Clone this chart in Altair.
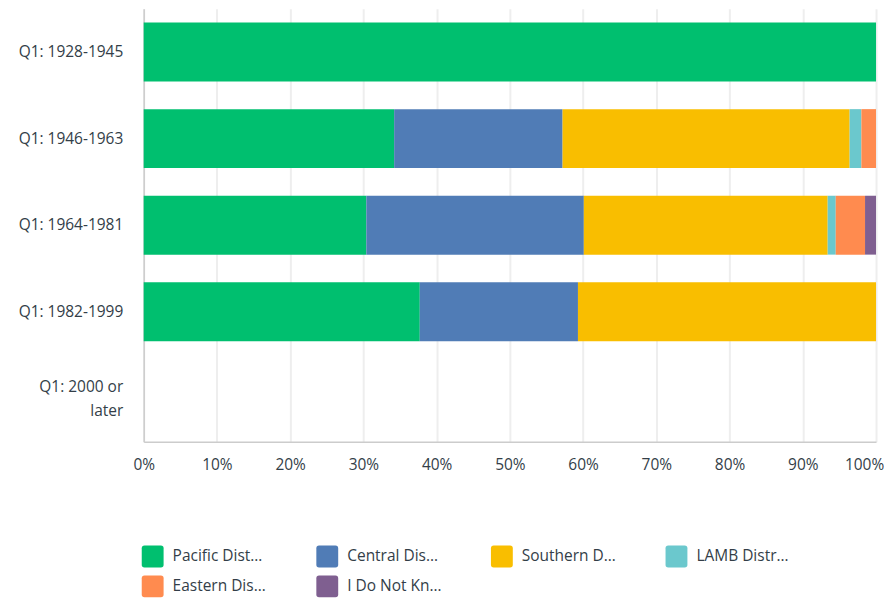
import altair as alt
import pandas as pd

categories = ["Q1: 1928-1945", "Q1: 1946-1963", "Q1: 1964-1981", "Q1: 1982-1999", "Q1: 2000 or later"]
series = ["Pacific Dist…", "Central Dis…", "Southern D…", "LAMB Distr…", "Eastern Dis…", "I Do Not Kn…"]
colors = ["#00bf6f", "#507cb6", "#f9be00", "#6bc8cd", "#ff8b4f", "#7f5f90"]

# percentage shares per category (rows) and series (columns)
values = {
    "Q1: 1928-1945": [100.0, 0, 0, 0, 0, 0],
    "Q1: 1946-1963": [34.2, 23.0, 39.2, 1.6, 2.0, 0],
    "Q1: 1964-1981": [30.4, 29.7, 33.3, 1.1, 4.0, 1.5],
    "Q1: 1982-1999": [37.7, 21.6, 40.7, 0, 0, 0],
}

rows = []
for cat, vals in values.items():
    for i, (s, v) in enumerate(zip(series, vals)):
        rows.append({"category": cat, "series": s, "order": i, "value": v / 100.0})
df = pd.DataFrame(rows)

font = "Open Sans"
rounded_square = "M-0.75,-1H0.75Q1,-1,1,-0.75V0.75Q1,1,0.75,1H-0.75Q-1,1,-1,0.75V-0.75Q-1,-1,-0.75,-1Z"

chart = alt.Chart(df).mark_bar().encode(
    y=alt.Y("category:N", sort=categories,
            scale=alt.Scale(domain=categories, paddingInner=0.32, paddingOuter=0.16),
            axis=alt.Axis(title=None, labelFontSize=15.5, labelColor="#333e48", labelFont=font,
                          labelPadding=21, ticks=False, domainColor="#cccccc", domainWidth=1.5,
                          labelLimit=200,
                          labelExpr="datum.value == 'Q1: 2000 or later' ? ['Q1: 2000 or', 'later'] : datum.value",
                          labelOffset={"condition": {"test": "datum.value == 'Q1: 2000 or later'", "value": -11}, "value": 0},
                          labelLineHeight=24)),
    x=alt.X("value:Q", stack="zero",
            scale=alt.Scale(domain=[0, 1], nice=False),
            axis=alt.Axis(title=None, format=".0%", values=[i / 10 for i in range(11)],
                          labelFontSize=15.5, labelColor="#333e48", labelFont=font, labelPadding=16,
                          labelOffset={"condition": {"test": "datum.value == 1", "value": -12}, "value": 0},
                          ticks=False, grid=True, gridColor="#eeeeee", gridWidth=2,
                          domainColor="#cccccc", domainWidth=1.5, labelFlush=False)),
    color=alt.Color("series:N", sort=series,
                    scale=alt.Scale(domain=series, range=colors),
                    legend=alt.Legend(title=None, orient="none", legendX=-2, legendY=538,
                                      direction="horizontal", columns=4, columnPadding=49,
                                      symbolType=rounded_square, symbolSize=480, symbolStrokeWidth=0,
                                      labelFontSize=15.5, labelColor="#333e48", labelFont=font,
                                      labelOffset=9, rowPadding=8, labelLimit=200,
                                      symbolOpacity=1)),
    order=alt.Order("order:Q"),
).properties(
    width=734, height=434,
    autosize=alt.AutoSizeParams(type="none"),
    padding={"left": 136, "top": 0, "right": 8, "bottom": 159},
).configure_view(stroke=None).configure_legend(gridAlign="all")

chart.save("out.html", embed_options={"renderer": "svg", "actions": False})
